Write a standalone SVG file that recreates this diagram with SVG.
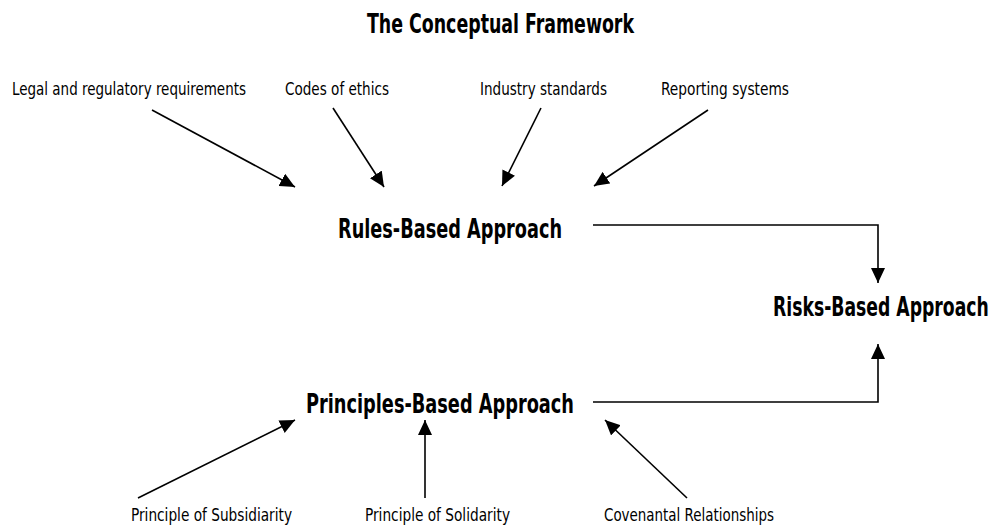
<svg xmlns="http://www.w3.org/2000/svg" width="996" height="525" viewBox="0 0 996 525">
<defs>
<style>
text{font-family:"Liberation Sans Narrow","DejaVu Sans Condensed","Liberation Sans",sans-serif;fill:#000}
.h{font-weight:bold;font-size:27px}
.l{font-size:18px}
.c{stroke:#000;stroke-width:1.6;fill:none}
</style>
<marker id="ah" markerUnits="userSpaceOnUse" markerWidth="16" markerHeight="14" refX="15" refY="7" orient="auto">
<path d="M0,0 L15,7 L0,14 Z" fill="#000"/>
</marker>
</defs>
<rect width="996" height="525" fill="#fff"/>
<text id="title" class="h" x="367" y="33" textLength="267" lengthAdjust="spacingAndGlyphs">The Conceptual Framework</text>
<g id="legal"><text class="l" x="12" y="95" textLength="234" lengthAdjust="spacingAndGlyphs">Legal and regulatory requirements</text></g>
<g id="codes"><text class="l" x="285" y="95" textLength="104" lengthAdjust="spacingAndGlyphs">Codes of ethics</text></g>
<g id="industry"><text class="l" x="480" y="95" textLength="127" lengthAdjust="spacingAndGlyphs">Industry standards</text></g>
<g id="reporting"><text class="l" x="661" y="95" textLength="128" lengthAdjust="spacingAndGlyphs">Reporting systems</text></g>
<g id="rules"><text class="h" x="338" y="238" textLength="224" lengthAdjust="spacingAndGlyphs">Rules-Based Approach</text></g>
<g id="risks"><text class="h" transform="translate(773,316) scale(0.712,1)" x="0" y="0" textLength="303" lengthAdjust="spacingAndGlyphs">Risks-Based Approach</text></g>
<g id="principles"><text class="h" x="306" y="413" textLength="268" lengthAdjust="spacingAndGlyphs">Principles-Based Approach</text></g>
<g id="subsidiarity"><text class="l" x="131" y="521" textLength="161" lengthAdjust="spacingAndGlyphs">Principle of Subsidiarity</text></g>
<g id="solidarity"><text class="l" x="365" y="521" textLength="145" lengthAdjust="spacingAndGlyphs">Principle of Solidarity</text></g>
<g id="covenantal"><text class="l" x="604" y="521" textLength="170" lengthAdjust="spacingAndGlyphs">Covenantal Relationships</text></g>
<g id="connectors">
<line class="c" x1="152" y1="110" x2="295" y2="187" marker-end="url(#ah)"/>
<line class="c" x1="333" y1="108" x2="384" y2="187" marker-end="url(#ah)"/>
<line class="c" x1="541" y1="108" x2="502" y2="186" marker-end="url(#ah)"/>
<line class="c" x1="708" y1="110" x2="594" y2="186" marker-end="url(#ah)"/>
<polyline class="c" points="593,225 878,225 878,283" marker-end="url(#ah)"/>
<polyline class="c" points="593,402 878,402 878,344" marker-end="url(#ah)"/>
<line class="c" x1="138" y1="498" x2="295" y2="420" marker-end="url(#ah)"/>
<line class="c" x1="425" y1="498" x2="425" y2="420" marker-end="url(#ah)"/>
<line class="c" x1="687" y1="498" x2="605" y2="420" marker-end="url(#ah)"/>
</g>
</svg>
